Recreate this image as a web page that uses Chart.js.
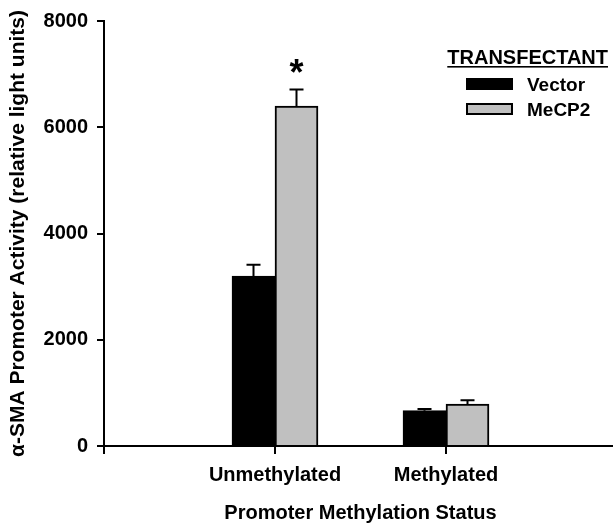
<!DOCTYPE html>
<html>
<head>
<meta charset="utf-8">
<script src="https://cdn.jsdelivr.net/npm/chart.js@4"></script>
<style>
  body { margin: 0; background: #fff; overflow: hidden; }
  /* axis runs a few px past the right edge of the window, as in the figure */
  #wrap { width: 617px; height: 523px; position: relative; }
</style>
</head>
<body>
<div id="wrap"><canvas id="chart"></canvas></div>
<script>
// data
const categories = ['Unmethylated', 'Methylated'];
const seriesNames = ['Vector', 'MeCP2'];
const vector = [3200, 665];
const vectorErr = [210, 32];
const mecp2 = [6400, 790];
const mecp2Err = [310, 72];
const mecp2Sig = ['*', ''];
const yTicks = [0, 2000, 4000, 6000, 8000];

const FONT = '"Liberation Sans", Arial, sans-serif';
Chart.defaults.font.family = FONT;
Chart.defaults.font.weight = 'bold';
Chart.defaults.color = '#000';

// empty slot on each side of the two groups, like the original axis
const labels = ['', ...categories, ''];
const pad = (vals) => [null, ...vals, null];

// error bars (upper half only) + significance star
const errorBars = {
  id: 'errorBars',
  afterDatasetsDraw(chart) {
    const ctx = chart.ctx;
    const y = chart.scales.y;
    chart.data.datasets.forEach((ds, di) => {
      const meta = chart.getDatasetMeta(di);
      meta.data.forEach((bar, i) => {
        if (ds.data[i] == null) return;
        const top = y.getPixelForValue(ds.data[i] + ds.errors[i]);
        ctx.save();
        ctx.strokeStyle = '#000';
        ctx.lineWidth = 2;
        ctx.beginPath();
        ctx.moveTo(bar.x, bar.y);
        ctx.lineTo(bar.x, top);
        ctx.moveTo(bar.x - 7, top);
        ctx.lineTo(bar.x + 7, top);
        ctx.stroke();
        if (ds.sig && ds.sig[i]) {
          ctx.fillStyle = '#000';
          ctx.font = 'bold 36px ' + FONT;
          ctx.textAlign = 'center';
          ctx.textBaseline = 'alphabetic';
          ctx.fillText(ds.sig[i], bar.x, top - 5);
        }
        ctx.restore();
      });
    });
  }
};

// legend with underlined heading, drawn in the top-right of the plot
const boxLegend = {
  id: 'boxLegend',
  afterDraw(chart) {
    const ctx = chart.ctx;
    const top = chart.chartArea.top;
    const right = window.innerWidth;
    ctx.save();
    ctx.fillStyle = '#000';
    ctx.font = 'bold 20px ' + FONT;
    ctx.textAlign = 'right';
    ctx.textBaseline = 'alphabetic';
    const head = 'TRANSFECTANT';
    const hw = ctx.measureText(head).width;
    ctx.fillText(head, right - 5, top + 43);
    ctx.fillRect(right - 5 - hw, top + 45, hw, 1.6);
    ctx.font = 'bold 19px ' + FONT;
    ctx.textAlign = 'left';
    chart.data.datasets.forEach((ds, i) => {
      const by = top + 57 + i * 25;
      ctx.fillStyle = ds.backgroundColor;
      ctx.fillRect(right - 147, by, 47, 12);
      ctx.strokeStyle = '#000';
      ctx.lineWidth = 2;
      ctx.strokeRect(right - 146, by + 1, 45, 10);
      ctx.fillStyle = '#000';
      ctx.fillText(ds.label, right - 86, by + 13);
    });
    ctx.restore();
  }
};

new Chart(document.getElementById('chart'), {
  type: 'bar',
  data: {
    labels: labels,
    datasets: [{
      label: seriesNames[0],
      data: pad(vector),
      errors: pad(vectorErr),
      backgroundColor: '#000000',
      borderColor: '#000',
      borderWidth: 2,
      barThickness: 43
    }, {
      label: seriesNames[1],
      data: pad(mecp2),
      errors: pad(mecp2Err),
      sig: pad(mecp2Sig),
      backgroundColor: '#c0c0c0',
      borderColor: '#000',
      borderWidth: 2,
      barThickness: 43
    }]
  },
  options: {
    responsive: true,
    maintainAspectRatio: false,
    animation: false,
    layout: { padding: { top: 17, right: 0, bottom: 0, left: 0 } },
    plugins: {
      legend: { display: false },
      tooltip: { enabled: false }
    },
    scales: {
      x: {
        offset: false,
        afterFit: (scale) => {
          scale.height = 77;
          scale.paddingLeft = 0;
          scale.paddingRight = 0;
        },
        ticks: {
          font: { size: 20, weight: 'bold' },
          padding: 9,
          autoSkip: false,
          maxRotation: 0
        },
        grid: { offset: false, drawOnChartArea: false, color: '#000', lineWidth: 2, tickLength: 8 },
        border: { color: '#000', width: 2 },
        title: {
          display: true,
          text: 'Promoter Methylation Status',
          font: { size: 20, weight: 'bold', lineHeight: 1 },
          padding: { top: 0, bottom: 0 }
        }
      },
      y: {
        min: 0,
        max: 8000,
        afterBuildTicks: (scale) => {
          scale.ticks = yTicks.map((v) => ({ value: v }));
        },
        afterFit: (scale) => { scale.width = 104; },
        ticks: {
          font: { size: 20, weight: 'bold' },
          padding: 9,
          callback: (v) => String(v)
        },
        grid: { drawOnChartArea: false, color: '#000', lineWidth: 2, tickLength: 7 },
        border: { color: '#000', width: 2 },
        title: {
          display: true,
          text: 'α-SMA Promoter Activity (relative light units)',
          font: { size: 21, weight: 'bold', lineHeight: 1 },
          padding: { top: 8, bottom: 0 }
        }
      }
    }
  },
  plugins: [errorBars, boxLegend]
});
</script>
</body>
</html>
